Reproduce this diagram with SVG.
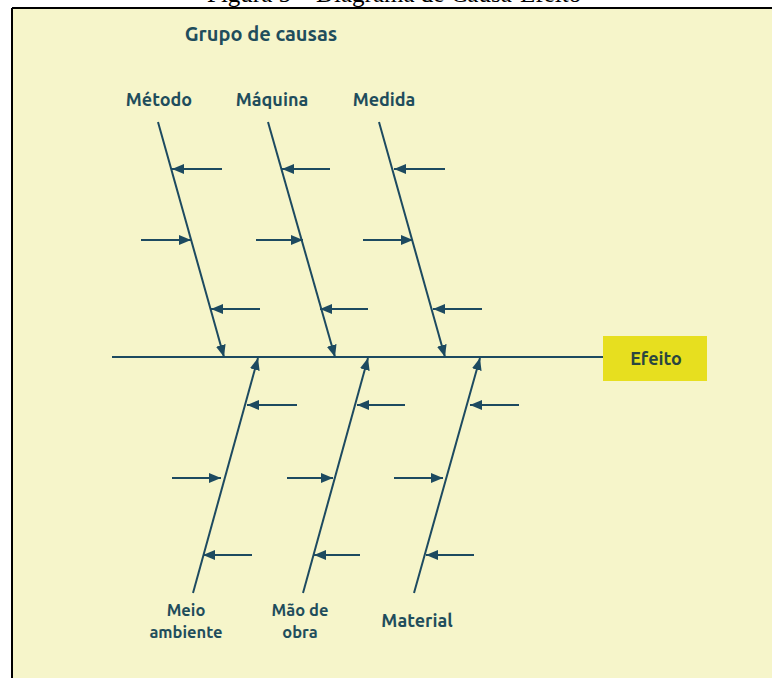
<svg xmlns="http://www.w3.org/2000/svg" width="772" height="678" viewBox="0 0 772 678">
  <defs>
    <marker id="ah" markerUnits="userSpaceOnUse" markerWidth="13" markerHeight="10" refX="12" refY="5" orient="auto">
      <path d="M0,0 L12,5 L0,10 z" fill="#1d4a60"/>
    </marker>
    <style>
      .lbl { font-family: "Ubuntu", "Open Sans", "Noto Sans", sans-serif; font-weight: 700; fill: #1f4d5c; font-size: 18px; text-anchor: middle; }
      .sm { font-size: 16.5px; }
      .bone { stroke: #1d4a60; stroke-width: 2; fill: none; marker-end: url(#ah); }
      .sub { stroke: #1d4a60; stroke-width: 2; fill: none; marker-end: url(#ah); }
      .spine { stroke: #1d4a60; stroke-width: 2; fill: none; }
    </style>
  </defs>
  <rect x="0" y="0" width="772" height="678" fill="#ffffff"/>
  <text x="207" y="2" font-family="'Liberation Serif', serif" font-size="25" fill="#000">Figura 5 – Diagrama de Causa-Efeito</text>
  <rect x="12" y="8" width="760" height="670" fill="#f6f5ca"/>
  <line x1="12" y1="8" x2="772" y2="8" stroke="#000" stroke-width="2"/>
  <line x1="12" y1="8" x2="12" y2="678" stroke="#000" stroke-width="2"/>

  <g id="title">
    <text class="lbl" x="261" y="41" style="font-size:20px">Grupo de causas</text>
  </g>

  <g id="efeito">
    <rect x="603" y="336" width="104" height="45" fill="#e7df1f"/>
    <text class="lbl" x="656" y="365" style="fill:#2a4640">Efeito</text>
  </g>

  <g id="metodo"><text class="lbl" x="159" y="106">Método</text></g>
  <g id="maquina"><text class="lbl" x="272" y="106">Máquina</text></g>
  <g id="medida"><text class="lbl" x="384" y="106">Medida</text></g>
  <g id="meio-ambiente"><text class="lbl sm" x="186" y="616">Meio</text><text class="lbl sm" x="186" y="638">ambiente</text></g>
  <g id="mao-de-obra"><text class="lbl sm" x="300" y="616">Mão de</text><text class="lbl sm" x="300" y="638">obra</text></g>
  <g id="material"><text class="lbl" x="417" y="627">Material</text></g>

  <g id="connectors">
    <line class="spine" x1="112" y1="357" x2="603" y2="357"/>
    <!-- top bones -->
    <line class="bone" x1="158" y1="122" x2="224" y2="357"/>
    <line class="bone" x1="268" y1="122" x2="335" y2="357"/>
    <line class="bone" x1="379" y1="122" x2="445" y2="357"/>
    <!-- top sub-arrows -->
    <line class="sub" x1="222" y1="169" x2="172" y2="169"/>
    <line class="sub" x1="330" y1="169" x2="282" y2="169"/>
    <line class="sub" x1="445" y1="169" x2="394" y2="169"/>
    <line class="sub" x1="141" y1="240" x2="191" y2="240"/>
    <line class="sub" x1="256" y1="240" x2="303" y2="240"/>
    <line class="sub" x1="363" y1="240" x2="413" y2="240"/>
    <line class="sub" x1="260" y1="309" x2="211" y2="309"/>
    <line class="sub" x1="368" y1="309" x2="320" y2="309"/>
    <line class="sub" x1="482" y1="309" x2="433" y2="309"/>
    <!-- bottom bones -->
    <line class="bone" x1="193" y1="593" x2="258" y2="358"/>
    <line class="bone" x1="303" y1="593" x2="368" y2="358"/>
    <line class="bone" x1="414" y1="593" x2="480" y2="358"/>
    <!-- bottom sub-arrows -->
    <line class="sub" x1="297" y1="405" x2="247" y2="405"/>
    <line class="sub" x1="405" y1="405" x2="357" y2="405"/>
    <line class="sub" x1="519" y1="405" x2="470" y2="405"/>
    <line class="sub" x1="172" y1="478" x2="221" y2="478"/>
    <line class="sub" x1="287" y1="478" x2="333" y2="478"/>
    <line class="sub" x1="394" y1="478" x2="443" y2="478"/>
    <line class="sub" x1="252" y1="555" x2="203" y2="555"/>
    <line class="sub" x1="360" y1="555" x2="314" y2="555"/>
    <line class="sub" x1="474" y1="555" x2="426" y2="555"/>
  </g>
</svg>
